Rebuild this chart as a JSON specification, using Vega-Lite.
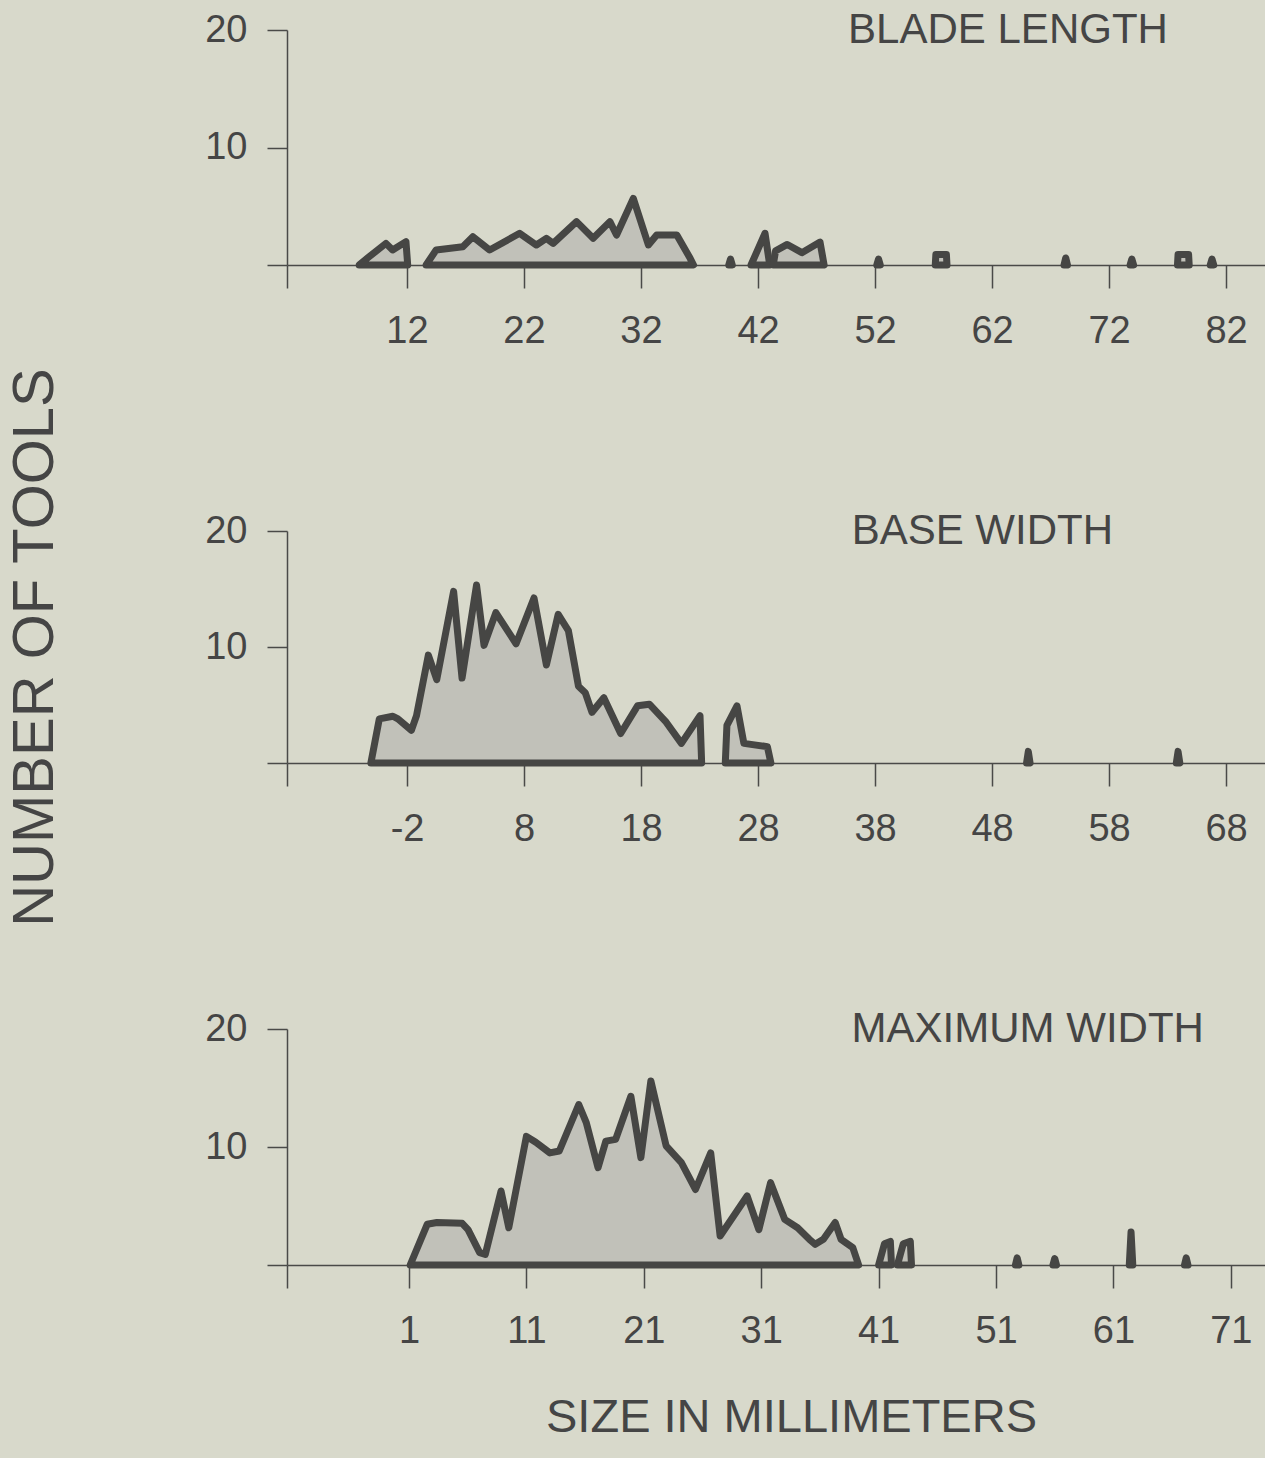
{
  "$schema": "https://vega.github.io/schema/vega-lite/v6.json",
  "background": "#d8d9cb",
  "padding": {"left": 6, "top": 9, "right": 0, "bottom": 30},
  "spacing": 266,
  "bounds": "flush",
  "config": {
    "view": {"stroke": null},
    "font": "Liberation Sans",
    "axis": {
      "grid": false,
      "domainColor": "#4a4a48",
      "domainWidth": 1.5,
      "tickColor": "#4a4a48",
      "tickWidth": 1.5,
      "labelFont": "Liberation Sans",
      "labelFontSize": 38,
      "labelColor": "#454545",
      "titleFont": "Liberation Sans",
      "titleFontWeight": "normal",
      "titleColor": "#454545"
    },
    "axisX": {"tickSize": 23, "labelPadding": 24, "labelFlush": false, "labelOverlap": false},
    "axisY": {"tickSize": 20, "labelPadding": 20}
  },
  "datasets": {
    "blade": [
      {"seg": "a", "mm": 7.91, "n": 0}, {"seg": "a", "mm": 8.77, "n": 0.71}, {"seg": "a", "mm": 10.2, "n": 1.84}, {"seg": "a", "mm": 10.77, "n": 1.28}, {"seg": "a", "mm": 11.91, "n": 1.99}, {"seg": "a", "mm": 12.06, "n": 0},
      {"seg": "b", "mm": 13.63, "n": 0}, {"seg": "b", "mm": 14.49, "n": 1.28}, {"seg": "b", "mm": 16.77, "n": 1.56}, {"seg": "b", "mm": 17.63, "n": 2.41}, {"seg": "b", "mm": 19.06, "n": 1.28}, {"seg": "b", "mm": 21.63, "n": 2.7}, {"seg": "b", "mm": 23.06, "n": 1.7}, {"seg": "b", "mm": 23.91, "n": 2.27}, {"seg": "b", "mm": 24.49, "n": 1.84}, {"seg": "b", "mm": 26.49, "n": 3.69}, {"seg": "b", "mm": 27.91, "n": 2.27}, {"seg": "b", "mm": 29.34, "n": 3.69}, {"seg": "b", "mm": 29.91, "n": 2.55}, {"seg": "b", "mm": 31.34, "n": 5.67}, {"seg": "b", "mm": 32.63, "n": 1.7}, {"seg": "b", "mm": 33.34, "n": 2.55}, {"seg": "b", "mm": 35.06, "n": 2.55}, {"seg": "b", "mm": 36.2, "n": 0.57}, {"seg": "b", "mm": 36.49, "n": 0},
      {"seg": "c", "mm": 39.5, "n": 0}, {"seg": "c", "mm": 39.65, "n": 0.5}, {"seg": "c", "mm": 39.8, "n": 0},
      {"seg": "d", "mm": 41.4, "n": 0}, {"seg": "d", "mm": 42.6, "n": 2.7}, {"seg": "d", "mm": 43.0, "n": 0},
      {"seg": "e", "mm": 43.3, "n": 0}, {"seg": "e", "mm": 43.5, "n": 1.2}, {"seg": "e", "mm": 44.5, "n": 1.75}, {"seg": "e", "mm": 45.75, "n": 1.05}, {"seg": "e", "mm": 47.3, "n": 1.95}, {"seg": "e", "mm": 47.65, "n": 0},
      {"seg": "f", "mm": 52.15, "n": 0}, {"seg": "f", "mm": 52.3, "n": 0.5}, {"seg": "f", "mm": 52.45, "n": 0},
      {"seg": "g", "mm": 57.15, "n": 0}, {"seg": "g", "mm": 57.2, "n": 0.9}, {"seg": "g", "mm": 58.1, "n": 0.9}, {"seg": "g", "mm": 58.15, "n": 0},
      {"seg": "h", "mm": 68.15, "n": 0}, {"seg": "h", "mm": 68.3, "n": 0.6}, {"seg": "h", "mm": 68.45, "n": 0},
      {"seg": "i", "mm": 73.8, "n": 0}, {"seg": "i", "mm": 73.95, "n": 0.5}, {"seg": "i", "mm": 74.1, "n": 0},
      {"seg": "j", "mm": 77.85, "n": 0}, {"seg": "j", "mm": 77.9, "n": 0.9}, {"seg": "j", "mm": 78.8, "n": 0.9}, {"seg": "j", "mm": 78.85, "n": 0},
      {"seg": "k", "mm": 80.65, "n": 0}, {"seg": "k", "mm": 80.8, "n": 0.5}, {"seg": "k", "mm": 80.95, "n": 0}
    ],
    "base": [
      {"seg": "a", "mm": -5.09, "n": 0}, {"seg": "a", "mm": -4.37, "n": 3.8}, {"seg": "a", "mm": -3.21, "n": 4.03}, {"seg": "a", "mm": -2.78, "n": 3.8}, {"seg": "a", "mm": -1.63, "n": 2.82}, {"seg": "a", "mm": -1.19, "n": 4.08}, {"seg": "a", "mm": -0.18, "n": 9.3}, {"seg": "a", "mm": 0.54, "n": 7.18}, {"seg": "a", "mm": 1.98, "n": 14.8}, {"seg": "a", "mm": 2.7, "n": 7.32}, {"seg": "a", "mm": 3.94, "n": 15.35}, {"seg": "a", "mm": 4.58, "n": 10.14}, {"seg": "a", "mm": 5.59, "n": 12.96}, {"seg": "a", "mm": 7.32, "n": 10.28}, {"seg": "a", "mm": 8.85, "n": 14.23}, {"seg": "a", "mm": 9.91, "n": 8.45}, {"seg": "a", "mm": 10.92, "n": 12.82}, {"seg": "a", "mm": 11.79, "n": 11.41}, {"seg": "a", "mm": 12.65, "n": 6.62}, {"seg": "a", "mm": 13.23, "n": 6.06}, {"seg": "a", "mm": 13.81, "n": 4.37}, {"seg": "a", "mm": 14.82, "n": 5.63}, {"seg": "a", "mm": 16.26, "n": 2.54}, {"seg": "a", "mm": 17.7, "n": 4.93}, {"seg": "a", "mm": 18.71, "n": 5.07}, {"seg": "a", "mm": 20.15, "n": 3.52}, {"seg": "a", "mm": 21.45, "n": 1.69}, {"seg": "a", "mm": 23.04, "n": 4.08}, {"seg": "a", "mm": 23.18, "n": 0},
      {"seg": "b", "mm": 25.2, "n": 0}, {"seg": "b", "mm": 25.34, "n": 3.24}, {"seg": "b", "mm": 26.2, "n": 4.93}, {"seg": "b", "mm": 26.79, "n": 1.69}, {"seg": "b", "mm": 28.8, "n": 1.41}, {"seg": "b", "mm": 29.1, "n": 0},
      {"seg": "c", "mm": 50.95, "n": 0}, {"seg": "c", "mm": 51.1, "n": 1.0}, {"seg": "c", "mm": 51.25, "n": 0},
      {"seg": "d", "mm": 63.75, "n": 0}, {"seg": "d", "mm": 63.9, "n": 1.0}, {"seg": "d", "mm": 64.05, "n": 0}
    ],
    "maxw": [
      {"seg": "a", "mm": 1.1, "n": 0}, {"seg": "a", "mm": 2.55, "n": 3.45}, {"seg": "a", "mm": 3.38, "n": 3.6}, {"seg": "a", "mm": 5.53, "n": 3.53}, {"seg": "a", "mm": 6.03, "n": 3.0}, {"seg": "a", "mm": 7.02, "n": 1.05}, {"seg": "a", "mm": 7.5, "n": 0.9}, {"seg": "a", "mm": 8.84, "n": 6.27}, {"seg": "a", "mm": 9.5, "n": 3.16}, {"seg": "a", "mm": 11.0, "n": 10.9}, {"seg": "a", "mm": 11.8, "n": 10.4}, {"seg": "a", "mm": 13.0, "n": 9.5}, {"seg": "a", "mm": 13.8, "n": 9.66}, {"seg": "a", "mm": 15.46, "n": 13.6}, {"seg": "a", "mm": 16.1, "n": 12.06}, {"seg": "a", "mm": 17.1, "n": 8.25}, {"seg": "a", "mm": 17.77, "n": 10.5}, {"seg": "a", "mm": 18.6, "n": 10.65}, {"seg": "a", "mm": 19.9, "n": 14.3}, {"seg": "a", "mm": 20.75, "n": 9.1}, {"seg": "a", "mm": 21.6, "n": 15.6}, {"seg": "a", "mm": 22.9, "n": 10.1}, {"seg": "a", "mm": 24.2, "n": 8.67}, {"seg": "a", "mm": 25.4, "n": 6.4}, {"seg": "a", "mm": 26.7, "n": 9.5}, {"seg": "a", "mm": 27.5, "n": 2.46}, {"seg": "a", "mm": 29.8, "n": 5.85}, {"seg": "a", "mm": 30.8, "n": 3.0}, {"seg": "a", "mm": 31.8, "n": 6.98}, {"seg": "a", "mm": 33.0, "n": 3.87}, {"seg": "a", "mm": 34.1, "n": 3.16}, {"seg": "a", "mm": 35.1, "n": 2.18}, {"seg": "a", "mm": 35.6, "n": 1.75}, {"seg": "a", "mm": 36.3, "n": 2.18}, {"seg": "a", "mm": 37.3, "n": 3.6}, {"seg": "a", "mm": 37.8, "n": 2.18}, {"seg": "a", "mm": 38.8, "n": 1.47}, {"seg": "a", "mm": 39.3, "n": 0},
      {"seg": "b", "mm": 41.0, "n": 0}, {"seg": "b", "mm": 41.5, "n": 1.8}, {"seg": "b", "mm": 42.0, "n": 2.0}, {"seg": "b", "mm": 42.1, "n": 0},
      {"seg": "c", "mm": 42.6, "n": 0}, {"seg": "c", "mm": 43.1, "n": 1.8}, {"seg": "c", "mm": 43.7, "n": 2.0}, {"seg": "c", "mm": 43.8, "n": 0},
      {"seg": "d", "mm": 52.65, "n": 0}, {"seg": "d", "mm": 52.8, "n": 0.6}, {"seg": "d", "mm": 52.95, "n": 0},
      {"seg": "e", "mm": 55.85, "n": 0}, {"seg": "e", "mm": 56.0, "n": 0.55}, {"seg": "e", "mm": 56.15, "n": 0},
      {"seg": "f", "mm": 62.35, "n": 0}, {"seg": "f", "mm": 62.5, "n": 2.8}, {"seg": "f", "mm": 62.65, "n": 0},
      {"seg": "g", "mm": 67.05, "n": 0}, {"seg": "g", "mm": 67.2, "n": 0.6}, {"seg": "g", "mm": 67.35, "n": 0}
    ]
  },
  "vconcat": [
    {
      "width": 978,
      "height": 235,
      "layer": [
        {
          "data": {"name": "blade"},
          "mark": {"type": "area", "fill": "#c1c1b9", "stroke": "#464644", "strokeWidth": 7, "strokeJoin": "round", "strokeCap": "round", "fillOpacity": 1},
          "encoding": {
            "x": {"field": "mm", "type": "quantitative", "scale": {"domain": [1.744, 85.33], "nice": false, "zero": false},
                  "axis": {"values": [1.744, 12, 22, 32, 42, 52, 62, 72, 82], "labelExpr": "datum.value < 5 ? '' : '' + datum.value", "title": null}},
            "y": {"field": "n", "type": "quantitative", "stack": null, "scale": {"domain": [0, 20], "nice": false}, "axis": {"title": null, "values": [0, 10, 20], "labelExpr": "datum.value == 0 ? '' : '' + datum.value"}},
            "detail": {"field": "seg", "type": "nominal"}
          }
        },
        {
          "data": {"values": [{}]},
          "mark": {"type": "text", "align": "left", "baseline": "middle", "fontSize": 42, "font": "Liberation Sans", "color": "#454545"},
          "encoding": {
            "x": {"datum": 49.7, "type": "quantitative"},
            "y": {"datum": 20, "type": "quantitative"},
            "text": {"value": "BLADE LENGTH"}
          }
        }
      ]
    },
    {
      "width": 978,
      "height": 232,
      "layer": [
        {
          "data": {"name": "base"},
          "mark": {"type": "area", "fill": "#c1c1b9", "stroke": "#464644", "strokeWidth": 7, "strokeJoin": "round", "strokeCap": "round", "fillOpacity": 1},
          "encoding": {
            "x": {"field": "mm", "type": "quantitative", "scale": {"domain": [-12.26, 71.33], "nice": false, "zero": false},
                  "axis": {"values": [-12.26, -2, 8, 18, 28, 38, 48, 58, 68], "labelExpr": "datum.value < -10 ? '' : '' + datum.value", "title": null}},
            "y": {"field": "n", "type": "quantitative", "stack": null, "scale": {"domain": [0, 20], "nice": false},
                  "axis": {"values": [0, 10, 20], "labelExpr": "datum.value == 0 ? '' : '' + datum.value", "title": "NUMBER OF TOOLS", "titleFontSize": 58, "titlePadding": 140}},
            "detail": {"field": "seg", "type": "nominal"}
          }
        },
        {
          "data": {"values": [{}]},
          "mark": {"type": "text", "align": "left", "baseline": "middle", "fontSize": 42, "font": "Liberation Sans", "color": "#454545"},
          "encoding": {
            "x": {"datum": 36.0, "type": "quantitative"},
            "y": {"datum": 20, "type": "quantitative"},
            "text": {"value": "BASE WIDTH"}
          }
        }
      ]
    },
    {
      "width": 978,
      "height": 236,
      "layer": [
        {
          "data": {"name": "maxw"},
          "mark": {"type": "area", "fill": "#c1c1b9", "stroke": "#464644", "strokeWidth": 7, "strokeJoin": "round", "strokeCap": "round", "fillOpacity": 1},
          "encoding": {
            "x": {"field": "mm", "type": "quantitative", "scale": {"domain": [-9.39, 73.91], "nice": false, "zero": false},
                  "axis": {"values": [-9.39, 1, 11, 21, 31, 41, 51, 61, 71], "labelExpr": "datum.value < 0 ? '' : '' + datum.value",
                           "title": "SIZE IN MILLIMETERS", "titleFontSize": 47, "titlePadding": 44, "titleX": 504, "titleAnchor": "middle"}},
            "y": {"field": "n", "type": "quantitative", "stack": null, "scale": {"domain": [0, 20], "nice": false}, "axis": {"title": null, "values": [0, 10, 20], "labelExpr": "datum.value == 0 ? '' : '' + datum.value"}},
            "detail": {"field": "seg", "type": "nominal"}
          }
        },
        {
          "data": {"values": [{}]},
          "mark": {"type": "text", "align": "left", "baseline": "middle", "fontSize": 42, "font": "Liberation Sans", "color": "#454545"},
          "encoding": {
            "x": {"datum": 38.7, "type": "quantitative"},
            "y": {"datum": 20, "type": "quantitative"},
            "text": {"value": "MAXIMUM WIDTH"}
          }
        }
      ]
    }
  ]
}
